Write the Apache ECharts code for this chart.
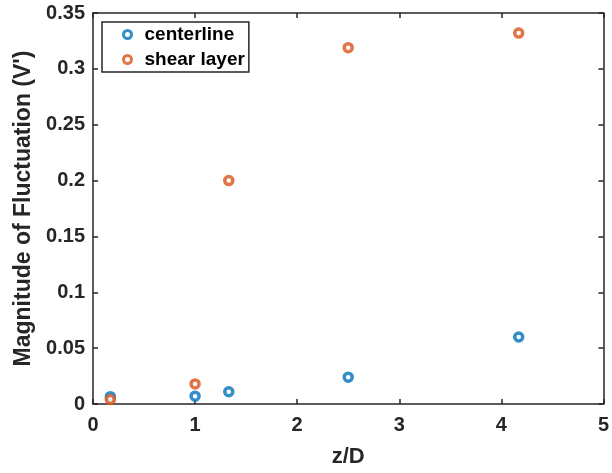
<!DOCTYPE html>
<html>
<head>
<meta charset="utf-8">
<script src="https://cdn.jsdelivr.net/npm/echarts@6/dist/echarts.min.js"></script>
<style>
  html, body { margin: 0; padding: 0; background: #fff; }
  #chart { width: 612px; height: 473px; }
</style>
</head>
<body>
<div id="chart"></div>
<script>
// positions along the jet, z/D
const zOverD = [0.17, 1, 1.33, 2.5, 4.17];
const centerline = [0.0066, 0.007, 0.011, 0.024, 0.060];
const shearLayer = [0.004, 0.018, 0.200, 0.319, 0.332];

const xTicks = [0, 1, 2, 3, 4, 5];
const yTicks = [0, 0.05, 0.1, 0.15, 0.2, 0.25, 0.3, 0.35];

const axisColor = '#262626';
const font = 'Liberation Sans, Arial, Helvetica, sans-serif';

function pairs(xs, ys) {
    return xs.map((x, i) => [x, ys[i]]);
}

const chart = echarts.init(document.getElementById('chart'));

const baseAxis = {
    axisLine: { show: true, onZero: false, lineStyle: { color: axisColor, width: 1.5 } },
    axisTick: { show: true, inside: true, length: 5, lineStyle: { color: axisColor, width: 1.5 } },
    splitLine: { show: false }
};

const option = {
    backgroundColor: '#fff',
    animation: false,
    grid: { left: 93, right: 5, top: 13, bottom: 66, containLabel: false },
    legend: {
        left: 102,
        top: 22,
        orient: 'vertical',
        itemGap: 6,
        itemWidth: 8,
        itemHeight: 8,
        padding: [3, 4, 3, 20],
        borderColor: axisColor,
        borderWidth: 1.5,
        backgroundColor: '#fff',
        itemStyle: { color: '#fff', borderWidth: 3 },
        textStyle: { fontFamily: font, fontWeight: 'bold', fontSize: 19, color: '#000', padding: [0, 0, 0, 8] },
        data: ['centerline', 'shear layer']
    },
    xAxis: [
        Object.assign({}, baseAxis, {
            type: 'value',
            min: 0, max: 5, interval: 1,
            position: 'bottom',
            name: 'z/D',
            nameLocation: 'middle',
            nameGap: 42,
            nameTextStyle: { fontFamily: font, fontWeight: 'bold', fontSize: 22, color: axisColor },
            axisLabel: {
                margin: 11,
                fontFamily: font, fontWeight: 'bold', fontSize: 20, color: axisColor,
                formatter: v => xTicks.includes(v) ? String(v) : ''
            }
        }),
        Object.assign({}, baseAxis, {
            type: 'value',
            min: 0, max: 5, interval: 1,
            position: 'top',
            axisLabel: { show: false }
        })
    ],
    yAxis: [
        Object.assign({}, baseAxis, {
            type: 'value',
            min: 0, max: 0.35, interval: 0.05,
            position: 'left',
            name: "Magnitude of Fluctuation (V')",
            nameLocation: 'middle',
            nameGap: 52,
            nameTextStyle: { fontFamily: font, fontWeight: 'bold', fontSize: 23, color: axisColor },
            axisLabel: {
                margin: 8,
                fontFamily: font, fontWeight: 'bold', fontSize: 20, color: axisColor,
                formatter: v => {
                    const t = yTicks.find(y => Math.abs(y - v) < 1e-9);
                    return t === undefined ? '' : String(t);
                }
            }
        }),
        Object.assign({}, baseAxis, {
            type: 'value',
            min: 0, max: 0.35, interval: 0.05,
            position: 'right',
            axisLabel: { show: false }
        })
    ],
    series: [
        {
            name: 'centerline',
            type: 'scatter',
            symbol: 'circle',
            symbolSize: 8,
            itemStyle: { color: '#fff', borderColor: '#0072BD', borderWidth: 3.5 },
            data: pairs(zOverD, centerline)
        },
        {
            name: 'shear layer',
            type: 'scatter',
            symbol: 'circle',
            symbolSize: 8,
            itemStyle: { color: '#fff', borderColor: '#D95319', borderWidth: 3.5 },
            data: pairs(zOverD, shearLayer)
        }
    ]
};

chart.setOption(option);
</script>
</body>
</html>
